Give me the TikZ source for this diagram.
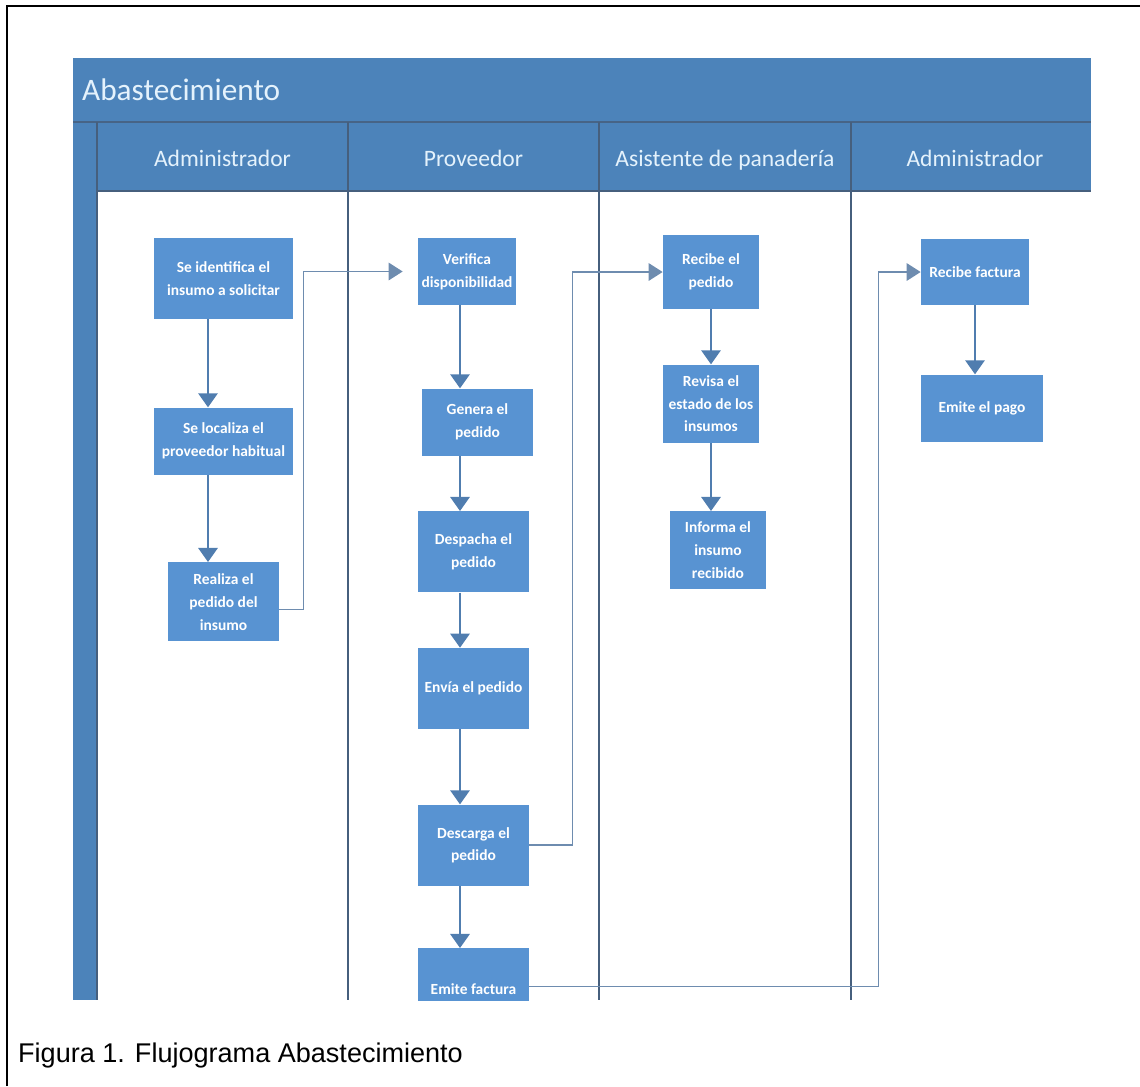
\documentclass[tikz,border=0pt]{standalone}
\usepackage{fontspec}
\setmainfont{Carlito}
\newfontfamily\piefont{Liberation Sans}
\usepackage{xcolor}
\usetikzlibrary{arrows.meta,positioning}

\definecolor{banda}{RGB}{76,131,186}
\definecolor{caja}{RGB}{88,147,210}
\definecolor{flujo}{RGB}{80,125,175}
\definecolor{enlacec}{RGB}{110,140,175}
\definecolor{carril}{RGB}{70,95,125}
\definecolor{rotulo}{RGB}{228,242,252}

\begin{document}
\begin{tikzpicture}[
  x=0.02cm, y=-0.02cm,
  node distance=1.1cm,
  paso/.style={fill=caja, text=white, align=center, inner sep=1pt,
    font=\bfseries\fontsize{8.8}{13}\selectfont},
  carrilbox/.style={text=rotulo, font=\fontsize{13.4}{16}\selectfont, anchor=base},
  flecha/.style={draw=flujo, line width=1.2pt, -{Triangle[length=8pt, width=11pt]}},
  enlace/.style={draw=enlacec, line width=0.9pt, -{Triangle[length=8pt, width=10pt]}}
]
  \useasboundingbox (0,0) rectangle (1140,1086);
  \draw[black, line width=0.8pt] (7,1086) -- (7,6) -- (1140,6);

  \begin{scope}
  \clip (73,58) rectangle (1091,1000);
  % bandas y carriles
  \fill[banda] (73,58) rectangle (1091,191);
  \fill[banda] (73,191) rectangle (97,1000);
  \draw[carril!85!banda, line width=0.8pt] (73,122) -- (1091,122);
  \draw[carril, line width=0.8pt] (97,191) -- (1091,191);
  \foreach \cx in {97,348,851}
    \draw[carril, line width=0.8pt] (\cx,122) -- (\cx,1000);
  \draw[carril, line width=1.4pt] (599,122) -- (599,1000);

  \node[text=rotulo, font=\fontsize{17.8}{20}\selectfont, anchor=base west] (titulo) at (76,100) {Abastecimiento};
  \node[carrilbox] (adm1) at (222.5,166) {Administrador};
  \node[carrilbox] (prov) at (473.5,166) {Proveedor};
  \node[carrilbox] (asis) at (725,166) {Asistente de panadería};
  \node[carrilbox] (adm2) at (975,166) {Administrador};

  \coordinate (eje1) at (208,0);
  \coordinate (eje2) at (460,0);

  % Administrador
  \node[paso, minimum width=2.78cm, minimum height=1.62cm] (ident) at (223.5,278.5) {Se identifica el\\insumo a solicitar};
  \node[paso, minimum width=2.78cm, minimum height=1.34cm, below=1.76cm of ident] (local) {Se localiza el\\proveedor habitual};
  \node[paso, minimum width=2.22cm, minimum height=1.58cm, below=1.74cm of local] (realiza) {Realiza el\\pedido del\\insumo};

  % Proveedor
  \node[paso, minimum width=1.96cm, minimum height=1.34cm] (verif) at (467,271.5) {Verifica\\disponibilidad};
  \node[paso, minimum width=2.22cm, minimum height=1.34cm, below=1.66cm of verif, xshift=0.21cm] (genera) {Genera el\\pedido};
  \node[paso, minimum width=2.22cm, minimum height=1.62cm, below=1.1cm of genera, xshift=-0.08cm] (despacha) {Despacha el\\pedido};
  \node[paso, minimum width=2.22cm, minimum height=1.62cm, below=1.1cm of despacha] (envia) {Envía el pedido};
  \node[paso, minimum width=2.22cm, minimum height=1.62cm, below=1.5cm of envia] (descarga) {Descarga el\\pedido};
  \node[paso, minimum width=2.22cm, minimum height=1.62cm, below=1.24cm of descarga] (efactura) {Emite factura};

  % Asistente de panadería
  \node[paso, minimum width=1.92cm, minimum height=1.48cm] (recped) at (711,272) {Recibe el\\pedido};
  \node[paso, minimum width=1.92cm, minimum height=1.56cm, below=1.1cm of recped] (revisa) {Revisa el\\estado de los\\insumos};
  \node[paso, minimum width=1.92cm, minimum height=1.56cm, below=1.36cm of revisa, xshift=0.14cm] (informa) {Informa el\\insumo\\recibido};

  % Administrador
  \node[paso, minimum width=2.16cm, minimum height=1.32cm] (recfac) at (975,272) {Recibe factura};
  \node[paso, minimum width=2.44cm, minimum height=1.34cm, below=1.38cm of recfac, xshift=0.14cm] (pago) {Emite el pago};

  \draw[flecha] (ident.south -| eje1) -- (local.north -| eje1);
  \draw[flecha] (local.south -| eje1) -- (realiza.north -| eje1);
  \draw[flecha] (verif.south -| eje2) -- (genera.north -| eje2);
  \draw[flecha] (genera.south -| eje2) -- (despacha.north -| eje2);
  \draw[flecha] (despacha.south -| eje2) -- (envia.north -| eje2);
  \draw[flecha] (envia.south -| eje2) -- (descarga.north -| eje2);
  \draw[flecha] (descarga.south -| eje2) -- (efactura.north -| eje2);
  \draw[flecha] (recped) -- (revisa);
  \draw[flecha] (revisa.south) -- (revisa.south |- informa.north);
  \draw[flecha] (recfac) -- (recfac.south |- pago.north);

  \draw[enlace, shorten >=0.3cm] ([yshift=-0.15cm]realiza.east) -- ++(24,0) |- (verif.west);
  \draw[enlace] (descarga.east) -- ++(43,0) |- (recped.west);
  \draw[enlace] ([yshift=0.05cm]efactura.east) -- ++(349,0) |- (recfac.west);
  \end{scope}

  \node[font=\piefont\fontsize{15.4}{18}\selectfont, anchor=base west] (pie) at (12,1062) {Figura 1. Flujograma Abastecimiento};
\end{tikzpicture}
\end{document}
